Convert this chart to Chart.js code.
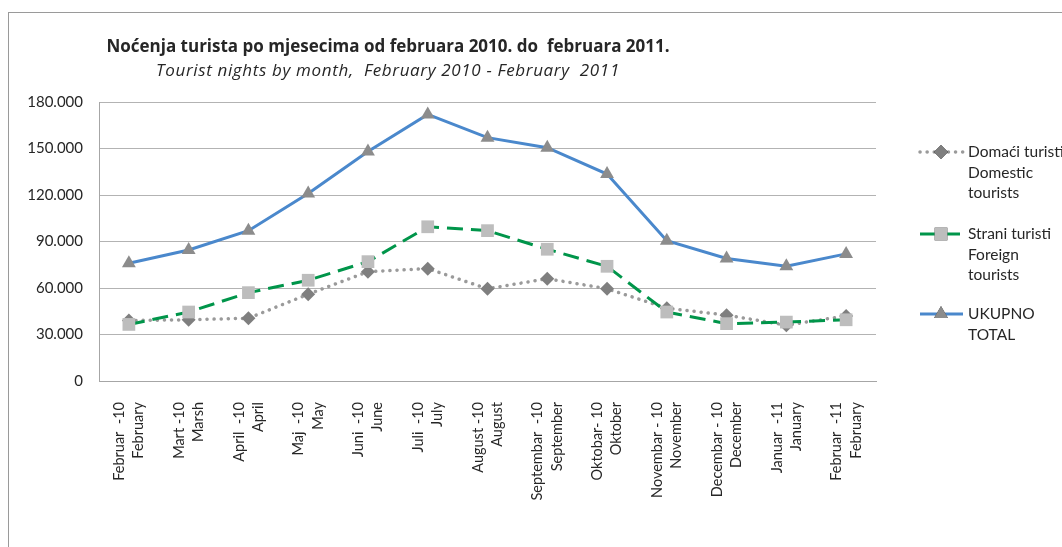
<!DOCTYPE html>
<html>
<head>
<meta charset="utf-8">
<script src="https://cdn.jsdelivr.net/npm/chart.js"></script>
<style>
html,body{margin:0;padding:0;background:#fff;}
#wrap{position:relative;width:1062px;height:547px;overflow:hidden;}
#frame{position:absolute;left:8px;top:12px;width:1100px;height:600px;border:1px solid #9a9a9a;}
#myChart{position:absolute;left:0;top:0;}
.t{position:absolute;left:0;width:776px;text-align:center;color:#262626;font-family:"Open Sans";font-size:17px;white-space:pre;line-height:20px;}
</style>
</head>
<body>
<div id="wrap">
  <div id="frame"></div>
  <canvas id="myChart" width="1062" height="547"></canvas>
  <div class="t" style="top:36px;font-weight:bold">Noćenja turista po mjesecima od februara 2010. do  februara 2011.</div>
  <div class="t" style="top:60px;font-style:italic;letter-spacing:0.65px">Tourist nights by month,  February 2010 - February  2011</div>
</div>
<script>
// kategorije (mjeseci), dva reda po oznaci
var categories = [
	["Februar  -10", "February"],
	["Mart -10", "Marsh"],
	["April  -10", "April"],
	["Maj  -10", "May"],
	["Juni  -10", "June"],
	["Juli  -10", "July"],
	["August -10", "August"],
	["Septembar  -10", "September"],
	["Oktobar- 10", "Oktober"],
	["Novembar - 10", "November"],
	["Decembar - 10", "December"],
	["Januar  -11", "January"],
	["Februar  -11", "February"]
];
// domaci turisti
var domestic = [39000, 39500, 40500, 56000, 70500, 72500, 59500, 66000, 59500, 47000, 42500, 36000, 42000];
// strani turisti
var foreign = [36500, 44500, 57000, 65000, 77000, 99500, 97000, 85000, 74000, 44500, 37000, 38000, 39500];
// ukupno
var total = [76000, 84500, 97000, 121000, 148000, 172000, 157000, 150500, 133500, 90500, 79000, 74000, 82000];
// legenda
var legendLabels = [
	["Domaći turisti", "Domestic", "tourists"],
	["Strani turisti", "Foreign", "tourists"],
	["UKUPNO", "TOTAL"]
];
var yTicks = [0, 30000, 60000, 90000, 120000, 150000, 180000];

var fmt = function(v){
	return String(v).replace(/\B(?=(\d{3})+(?!\d))/g, ".");
};

var datasets = [
	{
		data: domestic,
		borderColor: '#9a9a9a',
		borderWidth: 3.5,
		borderDash: [0.1, 7],
		borderCapStyle: 'round',
		pointStyle: 'rectRot',
		pointRadius: 7,
		pointBackgroundColor: '#7f7f7f',
		pointBorderWidth: 0,
		order: 3
	},
	{
		data: foreign,
		borderColor: '#00954a',
		borderWidth: 3,
		borderDash: [16, 8],
		pointStyle: 'rect',
		pointRadius: 9,
		pointBackgroundColor: '#bdbdbd',
		pointBorderWidth: 0,
		order: 2
	},
	{
		data: total,
		borderColor: '#4a88cc',
		borderWidth: 3,
		pointStyle: 'triangle',
		pointRadius: 8,
		pointBackgroundColor: '#8c8c8c',
		pointBorderWidth: 0,
		order: 1
	}
];

function $each(arr, fn){ for (var i = 0; i < arr.length; i++) fn(arr[i], i); }

//legenda desno, crtana na platnu
var legendPlugin = {
	id: 'sideLegend',
	afterDraw: function(chart){
		var ctx = chart.ctx;
		var ys = [152, 234, 314];
		ctx.save();
		ctx.font = '15.5px Lato';
		ctx.textBaseline = 'middle';
		ctx.textAlign = 'left';
		$each(datasets, function(ds, i){
			var y = ys[i];
			ctx.save();
			ctx.strokeStyle = ds.borderColor;
			ctx.lineWidth = ds.borderWidth;
			ctx.lineCap = ds.borderCapStyle || 'butt';
			ctx.setLineDash(ds.borderDash || []);
			ctx.beginPath();
			ctx.moveTo(920, y);
			ctx.lineTo(963, y);
			ctx.stroke();
			ctx.restore();
			Chart.helpers.drawPoint(ctx, {
				pointStyle: ds.pointStyle,
				radius: ds.pointRadius,
				rotation: 0,
				borderWidth: 0
			}, 941, y);
			ctx.fillStyle = ds.pointBackgroundColor;
			ctx.fill();
			ctx.fillStyle = '#262626';
			$each(legendLabels[i], function(line, j){
				ctx.fillText(line, 968, y + j * 20.5);
			});
		});
		ctx.restore();
	}
};

var ctx = document.getElementById("myChart");
new Chart(ctx, {
	type: 'line',
	data: { labels: categories, datasets: datasets },
	options: {
		responsive: false,
		animation: false,
		events: [],
		layout: { padding: { top: 102, right: 186, left: 0, bottom: 0 } },
		elements: { line: { tension: 0 } },
		plugins: { legend: { display: false }, tooltip: { enabled: false } },
		scales: {
			x: {
				offset: true,
				grid: { display: false, drawTicks: false },
				border: { display: true, color: '#a6a6a6', width: 1 },
				ticks: {
					autoSkip: false,
					minRotation: 90,
					maxRotation: 90,
					padding: 21,
					labelOffset: -9.5,
					color: '#262626',
					font: { family: 'Lato', size: 14.5, lineHeight: 1.33 }
				},
				afterFit: function(scale){ scale.height = 166; }
			},
			y: {
				min: 0,
				max: 180000,
				afterBuildTicks: function(scale){
					scale.ticks = yTicks.map(function(v){ return { value: v }; });
				},
				grid: { color: '#b3b3b3', lineWidth: 1, drawTicks: false },
				border: { display: true, color: '#a6a6a6', width: 1 },
				ticks: {
					padding: 16,
					color: '#262626',
					font: { family: 'Lato', size: 15 },
					callback: function(v){ return fmt(v); }
				},
				afterFit: function(scale){ scale.width = 99; }
			}
		}
	},
	plugins: [legendPlugin]
});
</script>
</body>
</html>
